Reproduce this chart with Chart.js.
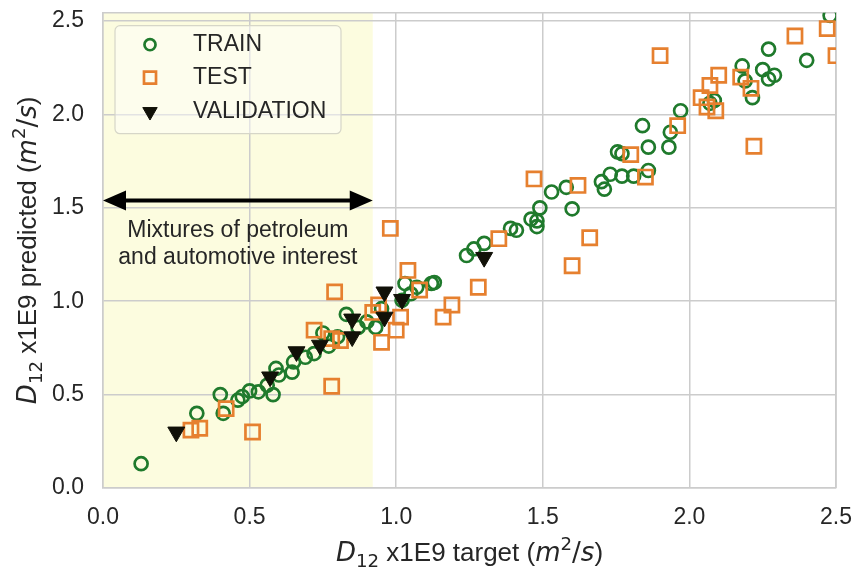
<!DOCTYPE html>
<html><head><meta charset="utf-8">
<script src="https://cdn.jsdelivr.net/npm/chart.js@4/dist/chart.umd.min.js"></script>
<style>html,body{margin:0;padding:0;background:#fff}canvas{display:block}</style>
</head><body>
<canvas id="c" width="856" height="572"></canvas>
<script>
// ---- data ----
const xTicks = [0, 0.5, 1.0, 1.5, 2.0, 2.5];
const yTicks = [0, 0.5, 1.0, 1.5, 2.0, 2.5];
const seriesNames = ['TRAIN', 'TEST', 'VALIDATION'];

const trainX = [0.13,0.32,0.40,0.41,0.46,0.475,0.50,0.53,0.58,0.56,0.60,0.59,0.645,0.65,0.69,0.72,0.75,0.77,0.80,0.83,0.87,0.90,0.93,0.95,1.02,1.03,1.07,1.05,1.12,1.13,1.24,1.265,1.30,1.39,1.41,1.46,1.48,1.48,1.49,1.53,1.58,1.60,1.70,1.71,1.73,1.77,1.81,1.77,1.755,1.84,1.86,1.86,1.93,1.935,1.97,2.085,2.07,2.18,2.19,2.215,2.25,2.27,2.29,2.27,2.40,2.48];
const trainY = [0.13,0.40,0.50,0.40,0.47,0.49,0.52,0.515,0.50,0.55,0.605,0.64,0.62,0.675,0.70,0.72,0.83,0.76,0.81,0.93,0.86,0.89,0.86,0.96,1.005,1.095,1.075,1.04,1.095,1.10,1.245,1.28,1.31,1.39,1.38,1.44,1.43,1.40,1.50,1.585,1.61,1.495,1.64,1.60,1.68,1.67,1.67,1.79,1.80,1.94,1.70,1.825,1.825,1.905,2.02,2.075,2.06,2.26,2.18,2.09,2.24,2.19,2.21,2.35,2.29,2.53];

const testX = [0.30,0.33,0.42,0.51,0.72,0.78,0.79,0.78,0.81,0.92,0.94,0.95,1.00,1.015,0.98,1.04,1.08,1.16,1.19,1.28,1.35,1.47,1.62,1.60,1.66,1.80,1.85,1.96,1.90,2.04,2.07,2.10,2.06,2.09,2.175,2.21,2.22,2.36,2.47,2.50];
const testY = [0.31,0.32,0.425,0.30,0.845,0.545,1.05,0.80,0.79,0.94,0.98,0.78,0.845,0.915,1.39,1.165,1.06,0.915,0.98,1.075,1.335,1.655,1.62,1.19,1.34,1.785,1.665,1.94,2.315,2.09,2.155,2.21,2.04,2.02,2.20,2.14,1.83,2.42,2.46,2.315];

const valX = [0.25,0.57,0.66,0.74,0.85,0.85,0.96,0.96,1.02,1.30];
const valY = [0.30,0.595,0.73,0.765,0.81,0.905,1.05,0.915,1.01,1.235];

// annotation
const regionEnd = 0.92;
const arrowY = 1.54;
const noteLines = ['Mixtures of petroleum', 'and automotive interest'];
const noteX = 0.46;
const noteY = [1.38, 1.235];

// ---- style ----
const FONT = '"Liberation Sans", Arial, Helvetica, sans-serif';
const MATH = '"DejaVu Sans", sans-serif';
const TXT = '#262626';
const GRID = '#cccccc';
const GREEN = '#1f7a2c';
const ORANGE = '#e6802f';
const DARK = '#111108';

function pts(xs, ys) { return xs.map((x, i) => ({x: x, y: ys[i]})); }

function drawRich(ctx, segs, size, cx, baseY) {
  const items = segs.map(s => {
    const sz = s.script ? size * 0.7 : size;
    const f = (s.italic ? 'italic ' : '') + sz + 'px ' + (s.math ? MATH : FONT);
    ctx.font = f;
    return {t: s.t, f: f, w: ctx.measureText(s.t).width, dy: s.script === 'sub' ? size * 0.22 : (s.script === 'sup' ? -size * 0.42 : 0)};
  });
  const total = items.reduce((a, b) => a + b.w, 0);
  let x = cx - total / 2;
  ctx.textBaseline = 'alphabetic';
  ctx.textAlign = 'left';
  items.forEach(it => { ctx.font = it.f; ctx.fillText(it.t, x, baseY + it.dy); x += it.w; });
}
function axisSegs(word) {
  return [
    {t: 'D', italic: true, math: true},
    {t: '12', script: 'sub', math: true},
    {t: ' x1E9 ' + word + ' ('},
    {t: 'm', italic: true, math: true},
    {t: '2', script: 'sup', math: true},
    {t: '/', math: true},
    {t: 's', italic: true, math: true},
    {t: ')'}
  ];
}

const bgPlugin = {
  id: 'bg',
  beforeDraw(chart) {
    const {ctx, chartArea: a, scales: {x}} = chart;
    ctx.save();
    ctx.fillStyle = '#ffffff';
    ctx.fillRect(0, 0, chart.width, chart.height);
    ctx.fillStyle = '#fcfcdf';
    const xr = x.getPixelForValue(regionEnd);
    ctx.fillRect(a.left, a.top, xr - a.left, a.bottom - a.top);
    ctx.restore();
  }
};

const framePlugin = {
  id: 'frame',
  beforeDatasetsDraw(chart) {
    const {ctx, chartArea: a, scales: {x, y}} = chart;
    ctx.save();
    ctx.strokeStyle = GRID; ctx.lineWidth = 1.5;
    ctx.beginPath();
    ctx.moveTo(a.left, a.top); ctx.lineTo(a.right, a.top); ctx.lineTo(a.right, a.bottom);
    ctx.stroke();
    // arrow
    const x0 = x.getPixelForValue(0), x1 = x.getPixelForValue(regionEnd), ya = y.getPixelForValue(arrowY);
    const hl = 23, hh = 10;
    ctx.fillStyle = '#000'; ctx.strokeStyle = '#000'; ctx.lineWidth = 4;
    ctx.beginPath(); ctx.moveTo(x0 + hl - 2, ya); ctx.lineTo(x1 - hl + 2, ya); ctx.stroke();
    ctx.beginPath(); ctx.moveTo(x0, ya); ctx.lineTo(x0 + hl, ya - hh); ctx.lineTo(x0 + hl, ya + hh); ctx.closePath(); ctx.fill();
    ctx.beginPath(); ctx.moveTo(x1, ya); ctx.lineTo(x1 - hl, ya - hh); ctx.lineTo(x1 - hl, ya + hh); ctx.closePath(); ctx.fill();
    // note
    ctx.fillStyle = TXT; ctx.font = '23px ' + FONT; ctx.textAlign = 'center'; ctx.textBaseline = 'middle';
    noteLines.forEach((t, i) => ctx.fillText(t, x.getPixelForValue(noteX), y.getPixelForValue(noteY[i])));
    ctx.restore();
  }
};

const legendPlugin = {
  id: 'customLegend',
  afterDatasetsDraw(chart) {
    const ctx = chart.ctx;
    const a = chart.chartArea;
    ctx.save();
    const bx = a.left + 12, by = a.top + 13, bw = 226, bh = 108;
    ctx.fillStyle = 'rgba(255,255,255,0.45)';
    ctx.strokeStyle = '#d6d6c8'; ctx.lineWidth = 1.2;
    ctx.beginPath();
    if (ctx.roundRect) ctx.roundRect(bx, by, bw, bh, 5); else ctx.rect(bx, by, bw, bh);
    ctx.fill(); ctx.stroke();
    const rows = [by + 19, by + 52, by + 86];
    chart.data.datasets.forEach((ds, i) => {
      ctx.fillStyle = ds.backgroundColor; ctx.strokeStyle = ds.borderColor; ctx.lineWidth = ds.borderWidth;
      Chart.helpers.drawPoint(ctx, {pointStyle: ds.pointStyle, radius: ds.pointRadius * 0.85, rotation: ds.rotation || 0, borderWidth: ds.borderWidth}, bx + 35, rows[i]);
      ctx.fillStyle = TXT; ctx.font = '23px ' + FONT; ctx.textAlign = 'left'; ctx.textBaseline = 'middle';
      ctx.fillText(ds.label, bx + 78, rows[i]);
    });
    ctx.restore();
  }
};

const titlePlugin = {
  id: 'axisTitles',
  afterDraw(chart) {
    const ctx = chart.ctx;
    const a = chart.chartArea;
    ctx.save();
    ctx.fillStyle = TXT;
    drawRich(ctx, axisSegs('target'), 26, (a.left + a.right) / 2, 561);
    ctx.translate(36, (a.top + a.bottom) / 2);
    ctx.rotate(-Math.PI / 2);
    drawRich(ctx, axisSegs('predicted'), 26, 0, 0);
    ctx.restore();
  }
};

new Chart(document.getElementById('c'), {
  type: 'scatter',
  data: {
    datasets: [
      {label: seriesNames[0], data: pts(trainX, trainY), pointStyle: 'circle', pointRadius: 6.5, borderWidth: 2.7, borderColor: GREEN, backgroundColor: 'rgba(0,0,0,0)', order: 3, clip: 0},
      {label: seriesNames[1], data: pts(testX, testY), pointStyle: 'rect', pointRadius: 10, borderWidth: 2.7, borderColor: ORANGE, backgroundColor: 'rgba(0,0,0,0)', order: 2, clip: 0},
      {label: seriesNames[2], data: pts(valX, valY), pointStyle: 'triangle', rotation: 180, pointRadius: 9.8, borderWidth: 1, borderColor: DARK, backgroundColor: DARK, order: 1, clip: 0}
    ]
  },
  options: {
    responsive: false,
    animation: false,
    devicePixelRatio: 1,
    events: [],
    layout: {padding: {top: 12, right: 20, left: 0, bottom: 0}},
    plugins: {legend: {display: false}, tooltip: {enabled: false}},
    scales: {
      x: {
        type: 'linear', min: 0, max: 2.5,
        afterBuildTicks: s => { s.ticks = xTicks.map(v => ({value: v})); },
        afterFit: s => { s.height = 84; s.paddingLeft = 0; s.paddingRight = 0; },
        ticks: {font: {size: 23, family: FONT}, color: TXT, padding: 16, callback: v => Number(v).toFixed(1), maxRotation: 0},
        grid: {color: GRID, lineWidth: 1.5, drawTicks: false},
        border: {color: GRID, width: 1.5}
      },
      y: {
        type: 'linear', min: 0, max: 2.545,
        afterBuildTicks: s => { s.ticks = yTicks.map(v => ({value: v})); },
        afterFit: s => { s.width = 103; s.paddingTop = 0; s.paddingBottom = 0; },
        ticks: {font: {size: 23, family: FONT}, color: TXT, padding: 19, callback: v => Number(v).toFixed(1)},
        grid: {color: GRID, lineWidth: 1.5, drawTicks: false},
        border: {color: GRID, width: 1.5}
      }
    }
  },
  plugins: [bgPlugin, framePlugin, legendPlugin, titlePlugin]
});
</script>
</body></html>
